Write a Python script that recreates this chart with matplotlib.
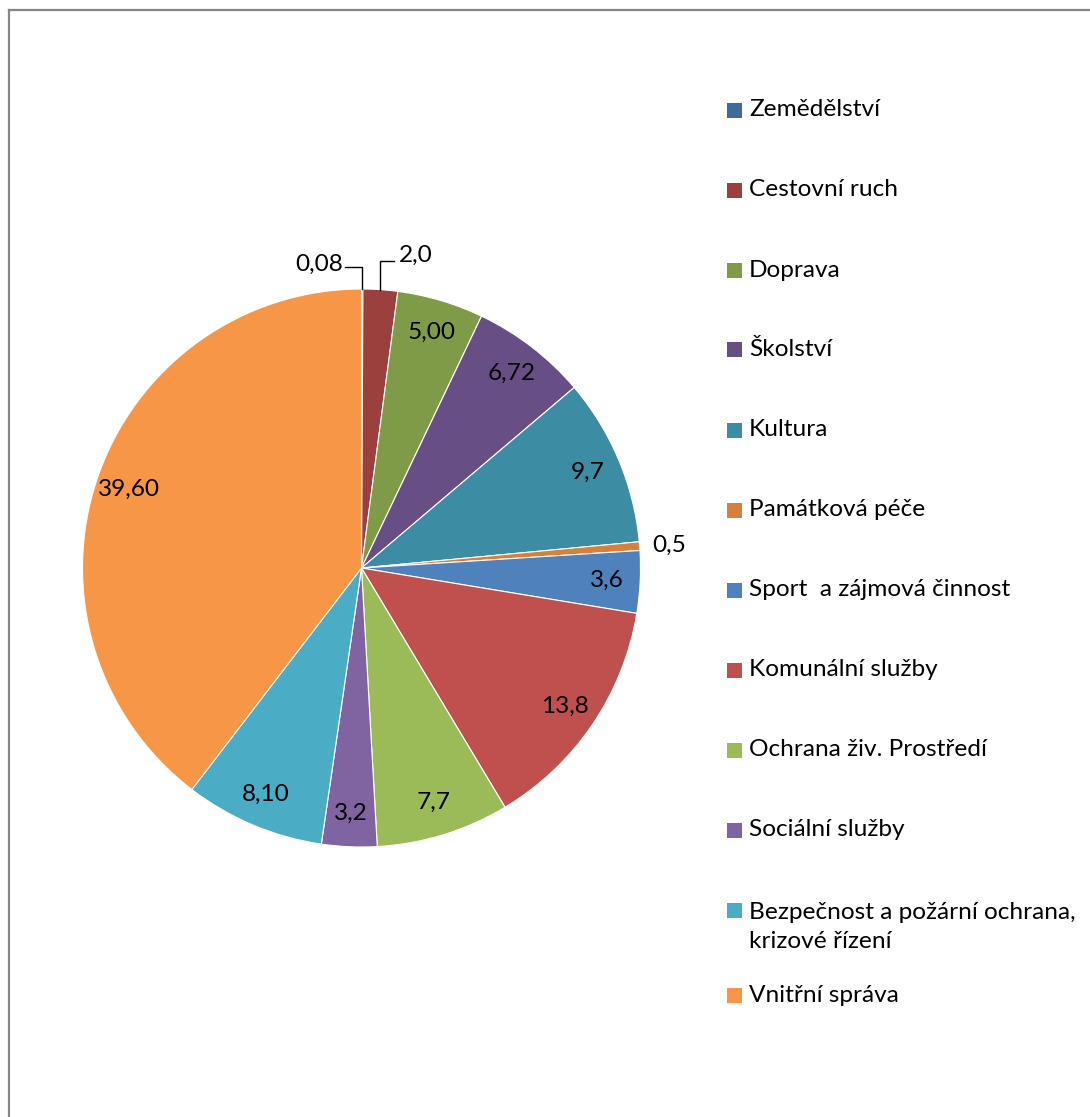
## pie chart of budget shares by sector, Excel-like look

import numpy as np
import matplotlib
matplotlib.use("Agg")
import matplotlib.pyplot as plt
from matplotlib.patches import Rectangle
from matplotlib.lines import Line2D

plt.rcParams["font.family"] = ["Lato", "DejaVu Sans"]

categories = ["Zemědělství", "Cestovní ruch", "Doprava", "Školství", "Kultura",
              "Památková péče", "Sport  a zájmová činnost", "Komunální služby",
              "Ochrana živ. Prostředí", "Sociální služby",
              "Bezpečnost a požární ochrana,\nkrizové řízení", "Vnitřní správa"]
values = [0.08, 2.0, 5.00, 6.72, 9.7, 0.5, 3.6, 13.8, 7.7, 3.2, 8.10, 39.60]
value_labels = ["0,08", "2,0", "5,00", "6,72", "9,7", "0,5", "3,6", "13,8",
                "7,7", "3,2", "8,10", "39,60"]
colors = ["#3E6A9E", "#9C403D", "#7F9B48", "#674F85", "#3C8CA3", "#D8803A",
          "#4F81BD", "#C0504D", "#9BBB59", "#8064A2", "#4BACC6", "#F79646"]

W, H = 1090, 1117
fig = plt.figure(figsize=(W / 100, H / 100), dpi=100)

# gray chart frame (right and bottom edges fall outside the picture)
fig.add_artist(Line2D([9 / W, 9 / W], [-0.1, 1 - 10 / H], color="#868686", lw=1.6))
fig.add_artist(Line2D([9 / W, 1.1], [1 - 10 / H, 1 - 10 / H], color="#868686", lw=1.6))

cx, cy, r = 361.5, 568, 279
ax = fig.add_axes([(cx - r) / W, (H - cy - r) / H, 2 * r / W, 2 * r / H])
wedges, _ = ax.pie(values, colors=colors, startangle=90, counterclock=False,
                   wedgeprops=dict(edgecolor="white", linewidth=0.8))
ax.set_xlim(-1, 1)
ax.set_ylim(-1, 1)
ax.axis("off")

fs = 17.6
total = sum(values)
cum = np.cumsum([0] + values[:-1])
for i, (v, lab) in enumerate(zip(values, value_labels)):
    ang = np.deg2rad(90 - 360 * (cum[i] + v / 2) / total)
    ex, ey = np.cos(ang), np.sin(ang)
    if i == 0:
        # leader line going up then left
        ax.plot([ex, ex, ex - 0.06], [ey, 1.08, 1.08], color="black", lw=1, clip_on=False)
        ax.text(ex - 0.07, 1.09, lab, ha="right", va="center", fontsize=fs, clip_on=False)
    elif i == 1:
        ax.plot([ex, ex, ex + 0.05], [ey, 1.10, 1.10], color="black", lw=1, clip_on=False)
        ax.text(ex + 0.065, 1.12, lab, ha="left", va="center", fontsize=fs, clip_on=False)
    elif v < 1:
        ax.text(ex * 1.045, ey * 1.045, lab, ha="left", va="center", fontsize=fs, clip_on=False)
    else:
        d = 0.88
        ax.text(ex * d, ey * d, lab, ha="center", va="center", fontsize=fs)

# legend on the right
y = 110
for name, c in zip(categories, colors):
    n_lines = name.count("\n") + 1
    fig.add_artist(Rectangle((727 / W, 1 - (y + 7.5) / H), 15 / W, 15 / H,
                             facecolor=c, edgecolor="none"))
    fig.text(749 / W, 1 - (y + 17 * (n_lines - 1)) / H, name, ha="left", va="center",
             fontsize=fs, linespacing=1.5)
    y += 80 + 5 * (n_lines - 1)

fig.savefig("out.png", dpi=100)
